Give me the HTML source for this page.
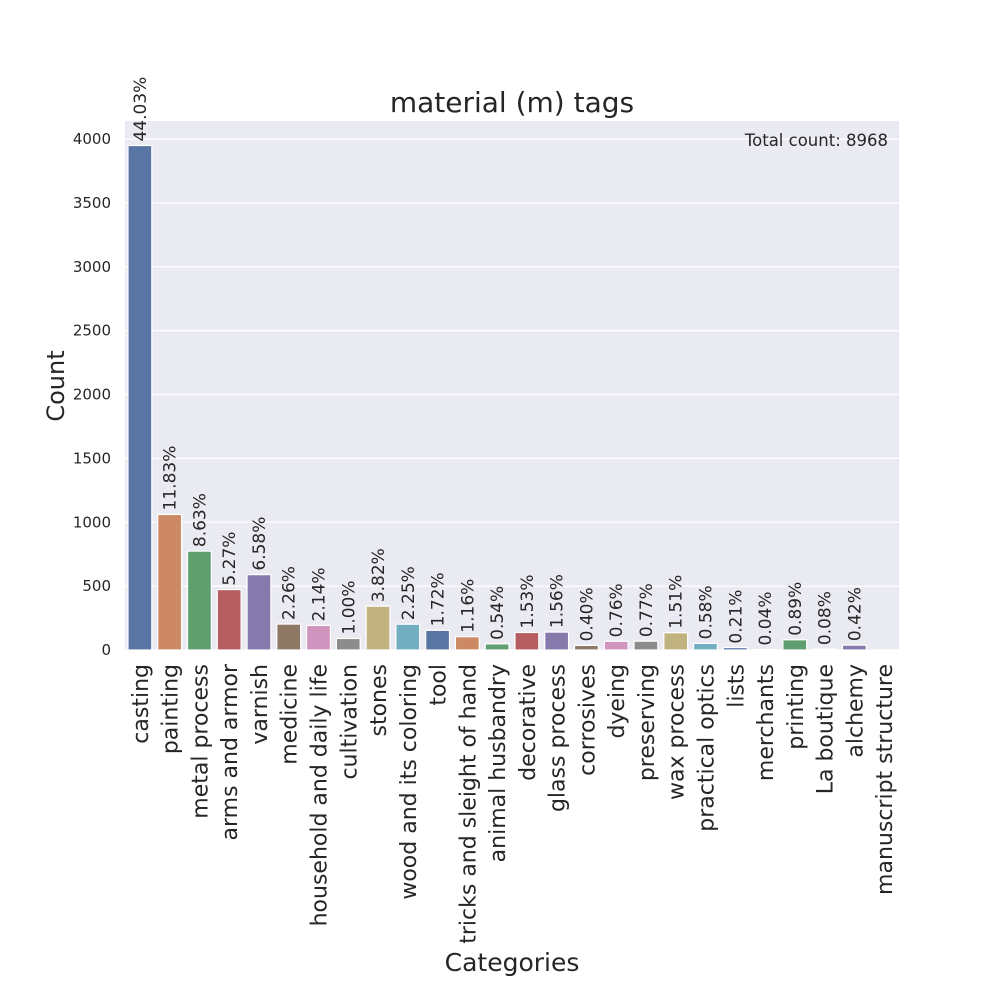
<!DOCTYPE html>
<html><head><meta charset="utf-8"><style>body{margin:0;background:#fff}svg{display:block}text{font-family:"DejaVu Sans","Liberation Sans",sans-serif;fill:#262626}</style></head>
<body>
<svg id="chart" width="1000" height="1000">
<rect x="125" y="121" width="774" height="529" fill="#eaeaf2"/>
<g id="grid"></g><g id="bars"></g><g id="labels"></g><g id="yticks"></g><g id="xticks"></g>
<text x="512" y="112" font-size="28" text-anchor="middle">material (m) tags</text>
<text x="888" y="146" font-size="16.5" text-anchor="end">Total count: 8968</text>
<text x="512" y="971" font-size="25" text-anchor="middle">Categories</text>
<text transform="translate(64,386) rotate(-90)" font-size="24" text-anchor="middle">Count</text>
</svg>
<script>
const categories=["casting","painting","metal process","arms and armor","varnish","medicine","household and daily life","cultivation","stones","wood and its coloring","tool","tricks and sleight of hand","animal husbandry","decorative","glass process","corrosives","dyeing","preserving","wax process","practical optics","lists","merchants","printing","La boutique","alchemy","manuscript structure"];
const counts=[3949,1061,774,473,590,203,192,90,343,202,154,104,48,137,140,36,68,69,135,52,19,4,80,7,38,0];
const pctLabels=["44.03%","11.83%","8.63%","5.27%","6.58%","2.26%","2.14%","1.00%","3.82%","2.25%","1.72%","1.16%","0.54%","1.53%","1.56%","0.40%","0.76%","0.77%","1.51%","0.58%","0.21%","0.04%","0.89%","0.08%","0.42%",""];
const yTicks=[0,500,1000,1500,2000,2500,3000,3500,4000];
const colors=["#5975a4","#cc8963","#5f9e6e","#b55d60","#857aab","#8d7866","#d095bf","#8c8c8c","#c1b37f","#71aec0"];
const NS="http://www.w3.org/2000/svg";
const x0=125,x1=899,yBase=650,yScale=511/4000;
const band=(x1-x0)/categories.length;
const xC=i=>x0+band*(i+0.5);
const yP=v=>yBase-v*yScale;
function mk(t,a,p){const e=document.createElementNS(NS,t);for(const k in a)e.setAttribute(k,a[k]);document.getElementById(p).appendChild(e);return e;}
yTicks.forEach(v=>{
 const l=mk("line",{x1:x0,x2:x1,y1:yP(v),y2:yP(v),stroke:"#fff","stroke-width":1.2},"grid");
 
 
 const t=mk("text",{x:111,y:yP(v)+5,"font-size":15,"text-anchor":"end"},"yticks");t.textContent=v;
 
 
});
categories.forEach((c,i)=>{
 const w=band*0.8,h=counts[i]*yScale;
 const r=mk("rect",{x:xC(i)-w/2,y:yBase-h,width:w,height:h,fill:colors[i%10],stroke:"#fff","stroke-width":1.2},"bars");
 
 
 if(pctLabels[i]){
  const t=mk("text",{transform:`translate(${xC(i)+6},${yP(counts[i])-4}) rotate(-90)`,"font-size":17},"labels");t.textContent=pctLabels[i];
  
  
 }
 const tl=mk("text",{transform:`translate(${xC(i)+8},664) rotate(-90)`,"font-size":22,"text-anchor":"end"},"xticks");tl.textContent=c;
 
 
});
</script>
</body></html>
